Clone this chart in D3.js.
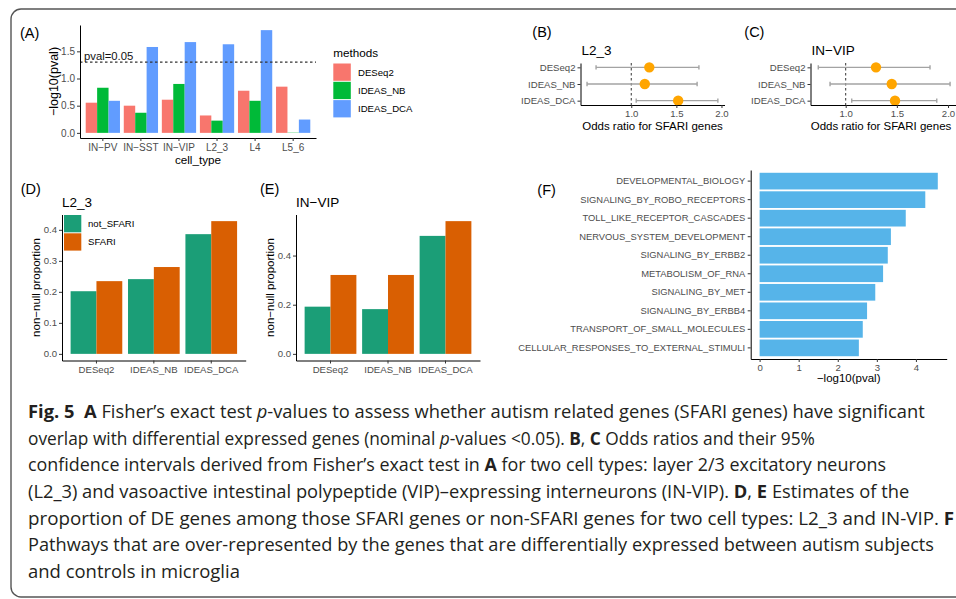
<!DOCTYPE html>
<html><head><meta charset="utf-8">
<script src="https://cdn.jsdelivr.net/npm/d3@7"></script>
<style>
html,body{margin:0;padding:0;background:#fff;}
svg{display:block;}
</style></head><body>
<svg id="fig" width="956" height="599"></svg>
<script>
// ---------------- DATA ----------------
const cellTypes = ["IN\u2212PV","IN\u2212SST","IN\u2212VIP","L2_3","L4","L5_6"];
const methods = ["DESeq2","IDEAS_NB","IDEAS_DCA"];
const methodColors = ["#F8766D","#00BA38","#619CFF"];
const pvalDESeq2   = [0.555, 0.50, 0.61, 0.32, 0.775, 0.85];
const pvalIDEAS_NB = [0.83, 0.37, 0.90, 0.225, 0.59, 0.005];
const pvalIDEAS_DCA= [0.59, 1.58, 1.67, 1.63, 1.89, 0.245];
const pvalThreshold = 1.301;
const yTicksA = [0, 0.5, 1.0, 1.5];

const orL23     = [1.20, 1.15, 1.52];
const orL23Low  = [0.61, 0.51, 1.055];
const orL23High = [1.75, 1.73, 1.96];
const orVIP     = [1.296, 1.45, 1.482];
const orVIPLow  = [0.732, 0.847, 1.059];
const orVIPHigh = [1.824, 2.02, 1.89];
const orTicks = [1.0, 1.5, 2.0];

const sfariGroups = ["not_SFARI","SFARI"];
const sfariColors = ["#1B9E77","#D95F02"];
const propL23NotSFARI = [0.202, 0.241, 0.386];
const propL23SFARI    = [0.2345, 0.28, 0.428];
const propVIPNotSFARI = [0.192, 0.182, 0.48];
const propVIPSFARI    = [0.321, 0.321, 0.54];
const propTicksL23 = [0, 0.1, 0.2, 0.3, 0.4];
const propTicksVIP = [0, 0.2, 0.4];

const pathways = ["DEVELOPMENTAL_BIOLOGY","SIGNALING_BY_ROBO_RECEPTORS","TOLL_LIKE_RECEPTOR_CASCADES",
  "NERVOUS_SYSTEM_DEVELOPMENT","SIGNALING_BY_ERBB2","METABOLISM_OF_RNA","SIGNALING_BY_MET",
  "SIGNALING_BY_ERBB4","TRANSPORT_OF_SMALL_MOLECULES","CELLULAR_RESPONSES_TO_EXTERNAL_STIMULI"];
const pathwayPval = [4.56, 4.24, 3.74, 3.36, 3.28, 3.16, 2.96, 2.75, 2.64, 2.54];
const pathwayTicks = [0,1,2,3,4];

const captionLines = [
  [["Fig. 5","b"],["\u00a0 ",""],["A","b"],[" Fisher\u2019s exact test ",""],["p","i"],["-values to assess whether autism related genes (SFARI genes) have significant",""]],
  [["overlap with differential expressed genes (nominal ",""],["p","i"],["-values <0.05). ",""],["B","b"],[", ",""],["C","b"],[" Odds ratios and their 95%",""]],
  [["confidence intervals derived from Fisher\u2019s exact test in ",""],["A","b"],[" for two cell types: layer 2/3 excitatory neurons",""]],
  [["(L2_3) and vasoactive intestinal polypeptide (VIP)\u2013expressing interneurons (IN-VIP). ",""],["D","b"],[", ",""],["E","b"],[" Estimates of the",""]],
  [["proportion of DE genes among those SFARI genes or non-SFARI genes for two cell types: L2_3 and IN-VIP. ",""],["F","b"]],
  [["Pathways that are over-represented by the genes that are differentially expressed between autism subjects",""]],
  [["and controls in microglia",""]]
];
const captionWidths = [897, 787, 859, 882, 927, 907, 212];

// ---------------- HELPERS ----------------
const FONT = "'Liberation Sans', Arial, Helvetica, sans-serif";
const svg = d3.select("#fig");
svg.append("rect").attr("width",956).attr("height",599).attr("fill","#fff");
svg.append("rect").attr("x",11).attr("y",9).attr("width",975).attr("height",588)
  .attr("rx",10).attr("fill","none").attr("stroke","#555").attr("stroke-width",1.4);

function txt(x,y,s,size,opts={}){
  const t = svg.append("text").attr("x",x).attr("y",y).text(s)
    .attr("font-family",FONT).attr("font-size",size).attr("fill",opts.fill||"#000")
    .attr("text-anchor",opts.anchor||"start");
  if(opts.rotate) t.attr("transform",`rotate(-90,${x},${y})`);
  return t;
}
function styleAxis(g,size){
  g.attr("font-family",FONT).attr("font-size",size);
  g.select(".domain").attr("stroke","#000").attr("stroke-width",1);
  g.selectAll(".tick line").attr("stroke","#333").attr("stroke-width",1);
  g.selectAll(".tick text").attr("fill","#4d4d4d");
}

// ---------------- PANEL A ----------------
(function(){
  const xA = d3.scaleBand().domain(cellTypes).range([80,316]).paddingInner(0.1).paddingOuter(0.15);
  const xAin = d3.scaleBand().domain(methods).range([0,xA.bandwidth()]);
  const yA = d3.scaleLinear().domain([-0.0945,1.9845]).range([138,25]);
  const seriesA = [pvalDESeq2,pvalIDEAS_NB,pvalIDEAS_DCA];
  methods.forEach((m,i)=>{
    svg.append("g").selectAll("rect").data(seriesA[i]).join("rect")
      .attr("x",(d,j)=>xA(cellTypes[j])+xAin(m))
      .attr("y",d=>yA(d)).attr("width",xAin.bandwidth())
      .attr("height",d=>yA(0)-yA(d)).attr("fill",methodColors[i]);
  });
  svg.append("line").attr("x1",xA.range()[0]).attr("x2",xA.range()[1])
    .attr("y1",yA(pvalThreshold)).attr("y2",yA(pvalThreshold))
    .attr("stroke","#333").attr("stroke-width",1.1).attr("stroke-dasharray","2.5,2.5");
  txt(xA.range()[0]+4, yA(pvalThreshold)-2.6, "pval=0.05", 11.3, {fill:"#111"});
  const gy = svg.append("g").attr("transform","translate(80,0)")
    .call(d3.axisLeft(yA).tickValues(yTicksA).tickFormat(d3.format(".1f")).tickSize(3).tickSizeOuter(0).tickPadding(2));
  styleAxis(gy,10);
  const gx = svg.append("g").attr("transform","translate(0,138)")
    .call(d3.axisBottom(xA).tickSize(3).tickSizeOuter(0).tickPadding(2.5));
  styleAxis(gx,10);
  txt(58, (25+138)/2, "\u2212log10(pval)", 12.5, {anchor:"middle", rotate:true});
  txt((80+316)/2, 163.5, "cell_type", 11.7, {anchor:"middle"});
  txt(20, 38, "(A)", 14.5);
  // legend
  txt(333.3, 56.5, "methods", 11.7);
  methods.forEach((m,i)=>{
    svg.append("rect").attr("x",333.3).attr("y",63.5+i*18.3).attr("width",17.5).attr("height",17.3).attr("fill",methodColors[i]);
    txt(358, 63.5+i*18.3+8.7, m, 9.6).attr("dy","0.35em");
  });
})();

// ---------------- PANELS B, C ----------------
function drawOR(cfg){
  const x = d3.scaleLinear().domain(cfg.domain).range(cfg.range);
  const y = d3.scalePoint().domain(methods).range([63,105]).padding(0.26);
  const g = svg.append("g");
  g.append("line").attr("x1",x(1)).attr("x2",x(1)).attr("y1",63).attr("y2",105)
    .attr("stroke","#333").attr("stroke-width",1).attr("stroke-dasharray","2.5,2.5");
  methods.forEach((m,i)=>{
    const yy = y(m);
    g.append("line").attr("x1",x(cfg.lo[i])).attr("x2",x(cfg.hi[i])).attr("y1",yy).attr("y2",yy)
      .attr("stroke","#a3a3a3").attr("stroke-width",1.4);
    [cfg.lo[i],cfg.hi[i]].forEach(v=>{
      g.append("line").attr("x1",x(v)).attr("x2",x(v)).attr("y1",yy-2.2).attr("y2",yy+2.2)
        .attr("stroke","#a3a3a3").attr("stroke-width",1.4);
    });
  });
  g.selectAll("circle").data(cfg.or).join("circle")
    .attr("cx",d=>x(d)).attr("cy",(d,i)=>y(methods[i])).attr("r",5.2).attr("fill","#FFA500");
  const gy = svg.append("g").attr("transform",`translate(${cfg.range[0]},0)`)
    .call(d3.axisLeft(y).tickSize(3).tickSizeOuter(0).tickPadding(2));
  styleAxis(gy,9.6);
  const gx = svg.append("g").attr("transform","translate(0,105)")
    .call(d3.axisBottom(x).tickValues(orTicks).tickFormat(d3.format(".1f")).tickSize(3).tickSizeOuter(0).tickPadding(2));
  styleAxis(gx,9.6);
  txt(cfg.titleX, 130, "Odds ratio for SFARI genes", 11.5, {anchor:"middle"});
  txt(cfg.labelX, 37, cfg.label, 14.5);
  txt(cfg.range[0]+1, 55, cfg.title, 13.5);
}
drawOR({domain:[0.4375,2.0335], range:[580.5,724.5], or:orL23, lo:orL23Low, hi:orL23High, label:"(B)", labelX:532.3, title:"L2_3", titleX:652.5});
drawOR({domain:[0.656,2.078], range:[810.5,956], or:orVIP, lo:orVIPLow, hi:orVIPHigh, label:"(C)", labelX:744.3, title:"IN\u2212VIP", titleX:881});

// ---------------- PANELS D, E ----------------
function drawProp(cfg){
  const x = d3.scaleBand().domain(methods).range(cfg.xr).paddingInner(0.1).paddingOuter(0.15);
  const xin = d3.scaleBand().domain(sfariGroups).range([0,x.bandwidth()]);
  const y = d3.scaleLinear().domain(cfg.yd).range([360.5,214.5]);
  const series = [cfg.notS, cfg.s];
  sfariGroups.forEach((s,i)=>{
    svg.append("g").selectAll("rect").data(series[i]).join("rect")
      .attr("x",(d,j)=>x(methods[j])+xin(s)).attr("y",d=>y(d))
      .attr("width",xin.bandwidth()).attr("height",d=>y(0)-y(d)).attr("fill",sfariColors[i]);
  });
  const gy = svg.append("g").attr("transform",`translate(${cfg.xr[0]},0)`)
    .call(d3.axisLeft(y).tickValues(cfg.ticks).tickFormat(d3.format(".1f")).tickSize(3).tickSizeOuter(0).tickPadding(2));
  styleAxis(gy,9.6);
  const gx = svg.append("g").attr("transform","translate(0,360.5)")
    .call(d3.axisBottom(x).tickSize(3).tickSizeOuter(0).tickPadding(2.5));
  styleAxis(gx,9.6);
  txt(cfg.xr[0]-22, (214.5+360.5)/2, "non\u2212null proportion", 11.5, {anchor:"middle", rotate:true});
  txt(cfg.labelX, 193.7, cfg.label, 14.5);
  txt(cfg.xr[0], 206.5, cfg.title, 13.5);
  if(cfg.legend){
    sfariGroups.forEach((s,i)=>{
      svg.append("rect").attr("x",cfg.xr[0]+2).attr("y",215+i*18.3).attr("width",17.3).attr("height",17.3).attr("fill",sfariColors[i]);
      txt(cfg.xr[0]+26, 215+i*18.3+8.7, s, 9.6).attr("dy","0.35em");
    });
  }
}
drawProp({xr:[62,245.7], yd:[-0.0214,0.4494], notS:propL23NotSFARI, s:propL23SFARI, ticks:propTicksL23, label:"(D)", labelX:20.7, title:"L2_3", legend:true});
drawProp({xr:[296,480], yd:[-0.027,0.567], notS:propVIPNotSFARI, s:propVIPSFARI, ticks:propTicksVIP, label:"(E)", labelX:260, title:"IN\u2212VIP", legend:false});

// ---------------- PANEL F ----------------
(function(){
  const y = d3.scaleBand().domain(pathways).range([170,359]).paddingInner(0.1).paddingOuter(0.15);
  const x = d3.scaleLinear().domain([-0.228,4.788]).range([750.7,946.7]);
  svg.append("g").selectAll("rect").data(pathwayPval).join("rect")
    .attr("x",x(0)).attr("y",(d,i)=>y(pathways[i])).attr("width",d=>x(d)-x(0))
    .attr("height",y.bandwidth()).attr("fill","#56B4E9");
  const gy = svg.append("g").attr("transform","translate(750.7,0)")
    .call(d3.axisLeft(y).tickSize(3).tickSizeOuter(0).tickPadding(2.5));
  styleAxis(gy,9.4);
  const gx = svg.append("g").attr("transform","translate(0,359)")
    .call(d3.axisBottom(x).tickValues(pathwayTicks).tickFormat(d3.format("d")).tickSize(3).tickSizeOuter(0).tickPadding(2.5));
  styleAxis(gx,9.6);
  txt((750.7+946.7)/2, 382, "\u2212log10(pval)", 11.5, {anchor:"middle"});
  txt(537.3, 195, "(F)", 14.5);
})();

// ---------------- CAPTION ----------------
const CAPFONT = "'Open Sans', 'Noto Sans', sans-serif";
captionLines.forEach((parts,i)=>{
  const y0 = 418+i*26.67;
  const g = svg.append("g").attr("transform",`translate(28,${y0})`);
  const t = g.append("text").attr("x",0).attr("y",0)
    .attr("font-family",CAPFONT).attr("font-size",18.5).attr("fill","#231f20")
    .style("white-space","pre");
  parts.forEach(([s,st])=>{
    const ts = t.append("tspan").text(s);
    if(st==="b") ts.attr("font-weight","bold");
    if(st==="i") ts.attr("font-style","italic");
  });
  const w = t.node().getComputedTextLength();
  if(w>0) g.attr("transform",`translate(28,${y0}) scale(${captionWidths[i]/w},1)`);
});
</script></body></html>
